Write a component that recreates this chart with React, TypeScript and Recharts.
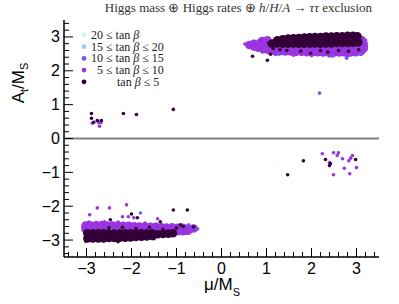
import { ScatterChart, Scatter, XAxis, YAxis, ReferenceLine } from "recharts";

type Pt = [number, number];

// axis ticks (major ones get labels)
const axisTicks = [
  -3.4, -3.2, -3, -2.8, -2.6, -2.4, -2.2, -2, -1.8, -1.6, -1.4, -1.2, -1, -0.8, -0.6, -0.4, -0.2,
  0, 0.2, 0.4, 0.6, 0.8, 1, 1.2, 1.4, 1.6, 1.8, 2, 2.2, 2.4, 2.6, 2.8, 3, 3.2, 3.4,
];

const legendRanges: [string | null, string | null][] = [
  ["20", null],
  ["15", "20"],
  ["10", "15"],
  ["5", "10"],
  [null, "5"],
];

// 5 <= tan b <= 10, dense part
const purpleCore: Pt[] = [
  // upper cluster, lower row
  [0.62, 2.76], [0.72, 2.72], [0.82, 2.68], [0.94, 2.64], [1.06, 2.61], [1.18, 2.59], [1.3, 2.58],
  [1.42, 2.57], [1.54, 2.57], [1.66, 2.56], [1.78, 2.56], [1.9, 2.55], [2.02, 2.55], [2.14, 2.55],
  [2.26, 2.54], [2.38, 2.54], [2.5, 2.54], [2.62, 2.54], [2.74, 2.54], [2.86, 2.54], [2.98, 2.55],
  [3.1, 2.58], [3.16, 2.66],
  // upper cluster, upper row
  [0.72, 2.8], [0.84, 2.78], [0.96, 2.76], [1.08, 2.72], [1.2, 2.7], [1.32, 2.7], [1.44, 2.69],
  [1.56, 2.69], [1.68, 2.68], [1.8, 2.68], [1.92, 2.68], [2.04, 2.67], [2.16, 2.67], [2.28, 2.67],
  [2.4, 2.67], [2.52, 2.67], [2.64, 2.67], [2.76, 2.67], [2.88, 2.68], [3.0, 2.69], [3.1, 2.72],
  [3.16, 2.8], [3.12, 2.9], [3.04, 2.96], [0.9, 2.88], [1.02, 2.9],
  // lower cluster, upper row
  [-3.02, -2.57], [-2.9, -2.57], [-2.78, -2.56], [-2.66, -2.56], [-2.54, -2.57], [-2.42, -2.57],
  [-2.3, -2.57], [-2.18, -2.58], [-2.06, -2.58], [-1.94, -2.59], [-1.82, -2.6], [-1.7, -2.6],
  [-1.58, -2.61], [-1.46, -2.61], [-1.34, -2.62], [-1.22, -2.63], [-1.1, -2.63], [-0.98, -2.64],
  [-0.86, -2.64], [-0.74, -2.65], [-0.62, -2.66],
  // lower cluster, second row
  [-3.02, -2.68], [-2.9, -2.68], [-2.78, -2.68], [-2.66, -2.68], [-1.34, -2.74], [-1.22, -2.74],
  [-1.1, -2.74], [-0.98, -2.74], [-0.86, -2.74], [-0.74, -2.72],
];

// 5 <= tan b <= 10, sparse points
const purpleDots: Pt[] = [
  [0.52, 2.79], [0.62, 2.7], [0.75, 2.64], [0.9, 2.56], [1.2, 2.48], [1.6, 2.46], [2.0, 2.45],
  [2.4, 2.44], [2.8, 2.44], [3.1, 2.48], [3.22, 2.72], [3.2, 2.9], [0.82, 2.88],
  [2.24, -0.45], [2.49, -0.42], [2.6, -0.42], [2.57, -0.5], [2.69, -0.6], [2.91, -0.5],
  [2.87, -0.58], [2.83, -0.66], [2.4, -0.71], [2.73, -0.88], [3.0, -0.86], [2.85, -1.04],
  [2.49, -1.07],
  [-2.87, 0.45], [-2.73, 0.47], [-2.68, 0.47], [-2.71, 0.36],
  [-2.93, -2.25], [-2.76, -2.05], [-2.49, -2.05], [-2.11, -1.96], [-2.2, -2.31], [-2.07, -2.31],
  [-1.95, -2.34], [-1.42, -2.37], [-3.08, -2.62], [-0.55, -2.66], [-2.95, -2.47], [-2.6, -2.46],
  [-2.3, -2.47], [-1.7, -2.5], [-1.1, -2.54], [-0.8, -2.8],
];

// tan b <= 5, dense part
const darkCore: Pt[] = [
  // upper cluster
  [1.12, 2.8], [1.24, 2.81], [1.36, 2.8], [1.48, 2.8], [1.6, 2.81], [1.72, 2.8], [1.84, 2.8],
  [1.96, 2.81], [2.08, 2.81], [2.2, 2.8], [2.32, 2.81], [2.44, 2.81], [2.56, 2.82], [2.68, 2.82],
  [2.8, 2.82], [2.92, 2.83], [3.04, 2.84],
  [1.24, 2.9], [1.36, 2.93], [1.48, 2.95], [1.6, 2.96], [1.72, 2.97], [1.84, 2.98], [1.96, 2.99],
  [2.08, 3.0], [2.2, 3.0], [2.32, 3.01], [2.44, 3.01], [2.56, 3.02], [2.68, 3.02], [2.8, 3.03],
  [2.92, 3.03], [3.02, 3.02],
  // lower cluster
  [-2.98, -2.8], [-2.86, -2.8], [-2.74, -2.8], [-2.62, -2.8], [-2.5, -2.8], [-2.38, -2.8],
  [-2.26, -2.8], [-2.14, -2.8], [-2.02, -2.8], [-1.9, -2.8], [-1.78, -2.8], [-1.66, -2.8],
  [-1.54, -2.8],
  [-2.98, -2.95], [-2.86, -2.95], [-2.74, -2.95], [-2.62, -2.95], [-2.5, -2.94], [-2.38, -2.94],
  [-2.26, -2.93], [-2.14, -2.93], [-2.02, -2.92], [-1.9, -2.91], [-1.78, -2.9], [-1.66, -2.89],
  [-1.54, -2.88],
  [-1.42, -2.83], [-1.3, -2.82], [-1.18, -2.81], [-1.08, -2.8],
];

// tan b <= 5, sparse points
const darkDots: Pt[] = [
  [0.69, 2.43], [1.02, 2.31], [1.09, 2.49], [1.15, 2.66], [1.3, 2.62], [1.45, 2.6], [1.76, 2.58],
  [1.98, 2.52], [2.2, 2.6], [2.36, 2.55], [2.6, 2.6], [2.82, 2.58], [3.05, 2.62], [1.05, 2.82],
  [1.13, 2.88],
  [1.82, -0.66], [1.47, -1.07], [2.31, -0.62], [2.42, -0.74], [2.4, -0.8], [2.98, -0.62],
  [-2.89, 0.74], [-2.89, 0.6], [-2.84, 0.48], [-2.76, 0.53], [-2.67, 0.53], [-2.18, 0.74],
  [-1.89, 0.71], [-1.07, 0.86],
  [-2.47, -2.4], [-2.0, -2.23], [-1.07, -2.11], [-0.76, -2.11], [-2.5, -2.64], [-2.2, -2.62],
  [-1.9, -2.66], [-1.6, -2.62], [-1.3, -2.68], [-1.0, -2.64], [-0.85, -2.6], [-0.62, -2.61],
  [-3.02, -3.03], [-1.87, -2.34], [-1.36, -2.46], [-0.91, -2.55], [-1.5, -2.96], [-2.3, -3.05],
];

// 10 <= tan b <= 15
const blueDots: Pt[] = [
  [1.27, 2.49], [2.47, 2.43], [2.78, 2.37], [3.09, 2.49], [2.18, 1.34],
  [-1.8, -2.2], [-0.73, -2.55], [-0.53, -2.67],
];

// 15 <= tan b <= 20 and tan b >= 20: nothing survives
const lightBlueDots: Pt[] = [];
const cyanDots: Pt[] = [];

const colors = ["#c8f6ff", "#99ccff", "#6363f2", "#9a35e0", "#330038"];

const toRows = (pts: Pt[]) => pts.map(([x, y]) => ({ x, y }));
const isMajor = (v: number) => Math.abs(v - Math.round(v)) < 1e-6;
const fmt = (v: number) => (v < 0 ? "\u2212" + Math.abs(v) : String(v));
const sans = "'Liberation Sans', Arial, sans-serif";
const serif = "'Liberation Serif', 'Times New Roman', serif";

const dot = (r: number, fill: string) => (p: any) => (
  <circle cx={p.cx} cy={p.cy} r={r} fill={fill} />
);

const BottomTick = (p: any) => {
  const major = isMajor(p.payload.value);
  return (
    <g>
      <line x1={p.x} y1={p.y} x2={p.x} y2={p.y - (major ? 9 : 5)} stroke="#000" />
      {major && (
        <text x={p.x} y={p.y + 17} textAnchor="middle" fontSize={16} fontFamily={sans} fill="#000">
          {fmt(Math.round(p.payload.value))}
        </text>
      )}
    </g>
  );
};

const TopTick = (p: any) => {
  const major = isMajor(p.payload.value);
  return <line x1={p.x} y1={p.y} x2={p.x} y2={p.y + (major ? 9 : 5)} stroke="#000" />;
};

const LeftTick = (p: any) => {
  const major = isMajor(p.payload.value);
  return (
    <g>
      <line x1={p.x} y1={p.y} x2={p.x + (major ? 9 : 5)} y2={p.y} stroke="#000" />
      {major && (
        <text x={p.x - 4} y={p.y + 5.5} textAnchor="end" fontSize={16} fontFamily={sans} fill="#000">
          {fmt(Math.round(p.payload.value))}
        </text>
      )}
    </g>
  );
};

const RightTick = (p: any) => {
  const major = isMajor(p.payload.value);
  return <line x1={p.x} y1={p.y} x2={p.x - (major ? 9 : 5)} y2={p.y} stroke="#000" />;
};

const axisCommon = {
  type: "number" as const,
  domain: [-3.5, 3.5],
  ticks: axisTicks,
  interval: 0,
  tickSize: 0,
  tickMargin: 0,
  tickLine: false,
  allowDataOverflow: true,
  axisLine: { stroke: "#000", strokeWidth: 1.5 },
};

const legendIndent = [0, 0, 0, 6, 26];

export default function App() {
  const series: [Pt[], number, string][] = [
    [cyanDots, 1.8, colors[0]],
    [lightBlueDots, 1.8, colors[1]],
    [purpleCore, 4.3, colors[3]],
    [purpleDots, 1.8, colors[3]],
    [darkCore, 4.3, colors[4]],
    [darkDots, 1.8, colors[4]],
    [blueDots, 1.8, colors[2]],
  ];

  return (
    <div style={{ position: "relative", width: 399, height: 304, background: "#fff" }}>
      <style>{"body{margin:0}"}</style>
      <ScatterChart width={399} height={304} margin={{ top: 20, right: 20, bottom: 0, left: 0 }}>
        <XAxis xAxisId="b" dataKey="x" orientation="bottom" height={47} tick={BottomTick} {...axisCommon} />
        <XAxis xAxisId="t" orientation="top" height={0} tick={TopTick} {...axisCommon} />
        <YAxis yAxisId="l" dataKey="y" orientation="left" width={64} tick={LeftTick} {...axisCommon} />
        <YAxis yAxisId="r" orientation="right" width={0} tick={RightTick} {...axisCommon} />
        <ReferenceLine xAxisId="b" yAxisId="l" y={0} stroke="#808080" strokeWidth={2} />
        {series.map(([pts, r, c], i) => (
          <Scatter
            key={i}
            xAxisId="b"
            yAxisId="l"
            data={toRows(pts)}
            shape={dot(r, c)}
            isAnimationActive={false}
          />
        ))}
      </ScatterChart>

      <svg width={399} height={304} style={{ position: "absolute", left: 0, top: 0, pointerEvents: "none" }}>
        <text x={372} y={12} textAnchor="end" fontSize={13} fontFamily={serif} fill="#333">
          Higgs mass ⊕ Higgs rates ⊕ <tspan fontStyle="italic">h</tspan>/<tspan fontStyle="italic">H</tspan>/
          <tspan fontStyle="italic">A</tspan> → <tspan fontStyle="italic">ττ</tspan> exclusion
        </text>

        {legendRanges.map(([lo, hi], i) => {
          const y = 35 + i * 11.7;
          return (
            <g key={i}>
              <circle cx={84} cy={y} r={2.4} fill={colors[i]} />
              <text x={91 + legendIndent[i]} y={y + 4} fontSize={12} fontFamily={serif} fill="#222">
                {lo ? `${lo} ≤ ` : ""}tan <tspan fontStyle="italic">β</tspan>
                {hi ? ` ≤ ${hi}` : ""}
              </text>
            </g>
          );
        })}

        <text transform="rotate(-90 24 83)" x={24} y={83} textAnchor="middle" fontSize={17} fontFamily={sans} fill="#000">
          A<tspan dy={4} fontSize={11}>t</tspan>
          <tspan dy={-4}>/M</tspan>
          <tspan dy={4} fontSize={11}>S</tspan>
        </text>

        <text x={222} y={290} textAnchor="middle" fontSize={17} fontFamily={sans} fill="#000">
          μ/M<tspan dy={6} fontSize={11}>S</tspan>
        </text>
      </svg>
    </div>
  );
}
